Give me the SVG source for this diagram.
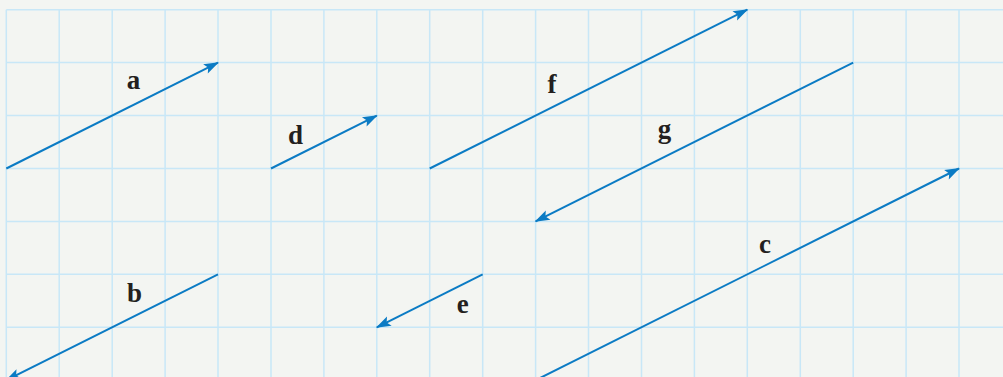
<svg xmlns="http://www.w3.org/2000/svg" width="1003" height="377" viewBox="0 0 1003 377">
<style>
.grid{stroke:#c8e7f7;stroke-width:1.5;fill:none}
.vec{stroke:#0b7bc4;stroke-width:2;fill:none;marker-end:url(#ah)}
.lbl{font-family:"Liberation Serif","DejaVu Serif",serif;font-weight:bold;font-size:27px;fill:#231f20;text-anchor:middle}
</style>
<defs>
<marker id="ah" markerUnits="userSpaceOnUse" markerWidth="20" markerHeight="14" viewBox="-16 -7 18 14" refX="0" refY="0" orient="auto">
<path d="M1,0 L-14,-5.2 L-11,0 L-14,5.2 Z" fill="#0b7bc4"/>
</marker>
</defs>
<rect width="1003" height="377" fill="#f3f5f2"/>
<g id="grid" class="grid">
<path d="M6.3,9.7V377M59.2,9.7V377M112.2,9.7V377M165.1,9.7V377M218,9.7V377M271,9.7V377M323.9,9.7V377M376.8,9.7V377M429.7,9.7V377M482.7,9.7V377M535.6,9.7V377M588.5,9.7V377M641.5,9.7V377M694.4,9.7V377M747.3,9.7V377M800.3,9.7V377M853.2,9.7V377M906.1,9.7V377M959,9.7V377"/>
<path d="M6.3,9.7H1003M6.3,62.6H1003M6.3,115.6H1003M6.3,168.5H1003M6.3,221.4H1003M6.3,274.3H1003M6.3,327.3H1003"/>
</g>
<g id="connectors">
<line class="vec" x1="6.3" y1="168.5" x2="218" y2="62.6"/>
<line class="vec" x1="271" y1="168.5" x2="376.8" y2="115.6"/>
<line class="vec" x1="429.7" y1="168.5" x2="747.3" y2="9.7"/>
<line class="vec" x1="853.2" y1="62.6" x2="535.6" y2="221.4"/>
<line class="vec" x1="218" y1="274.3" x2="6.3" y2="380.2"/>
<line class="vec" x1="482.7" y1="274.3" x2="376.8" y2="327.3"/>
<line class="vec" x1="535.6" y1="380.2" x2="959" y2="168.5"/>
</g>
<g id="label-a"><text class="lbl" x="133.5" y="89">a</text></g>
<g id="label-d"><text class="lbl" x="295.5" y="144">d</text></g>
<g id="label-f"><text class="lbl" x="552" y="93">f</text></g>
<g id="label-g"><text class="lbl" x="664.5" y="137.5">g</text></g>
<g id="label-b"><text class="lbl" x="134.5" y="302">b</text></g>
<g id="label-e"><text class="lbl" x="462.8" y="313.3">e</text></g>
<g id="label-c"><text class="lbl" x="765" y="253.3">c</text></g>
</svg>
